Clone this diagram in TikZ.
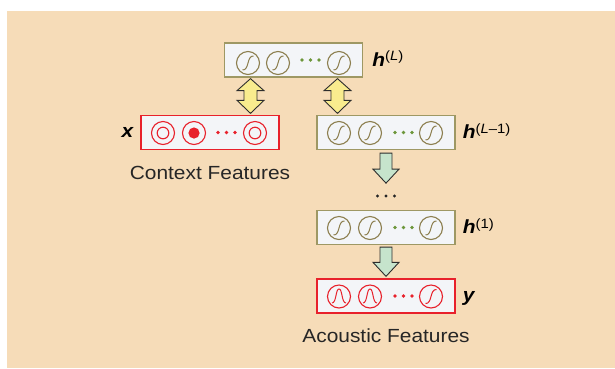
\documentclass[tikz,border=0pt]{standalone}
\usepackage{fontspec}
\setmainfont[FakeStretch=1.1]{Liberation Sans}
\usetikzlibrary{calc}

\definecolor{bgtan}{RGB}{246,220,184}
\definecolor{boxfill}{RGB}{243,245,248}
\definecolor{olive}{RGB}{158,152,100}
\definecolor{unitolive}{RGB}{140,126,78}
\definecolor{dotgreen}{RGB}{108,150,58}
\definecolor{featred}{RGB}{232,33,43}
\definecolor{yfill}{RGB}{249,236,142}
\definecolor{gfill}{RGB}{198,228,204}
\definecolor{arrline}{RGB}{45,45,45}

\tikzset{
  layer/.style={draw=olive, fill=boxfill, line width=1.3pt,
    minimum width=138pt, minimum height=34pt, inner sep=0pt},
  featlayer/.style={layer, draw=featred},
  unit/.style={circle, draw=unitolive, line width=1.1pt,
    minimum size=23pt, inner sep=0pt},
  redunit/.style={unit, draw=featred},
  curve/.style={line width=1pt},
  yarrow/.style={fill=yfill, draw=arrline, line width=0.9pt, line join=miter},
  garrow/.style={fill=gfill, draw=arrline, line width=0.9pt, line join=miter},
  hlabel/.style={anchor=base west, font=\fontsize{19}{19}\selectfont\bfseries\itshape, inner sep=0pt},
  caption/.style={font=\fontsize{19}{20}\selectfont, text=black!85, inner sep=0pt},
}

% superscript of a layer label
\newcommand{\layersup}[1]{\raisebox{5.5pt}{\fontsize{13.5}{13.5}\selectfont\mdseries\upshape #1}}
% sigmoid and Gaussian glyphs drawn inside a unit circle
\newcommand{\sigmoidin}[2]{\draw[curve,#2] ($(#1)+(-5.5,7)$) .. controls ($(#1)+(1.5,7.5)$) and ($(#1)+(-1.5,-7.5)$) .. ($(#1)+(5.5,-7)$);}
\newcommand{\gaussin}[2]{\draw[curve,#2] ($(#1)+(-7,6.5)$) .. controls ($(#1)+(-2.5,6.5)$) and ($(#1)+(-3.5,-7.5)$) .. ($(#1)+(0,-7.5)$) .. controls ($(#1)+(3.5,-7.5)$) and ($(#1)+(2.5,6.5)$) .. ($(#1)+(7,6.5)$);}
% three small dots centred on a point
\newcommand{\threedots}[2]{\foreach \dx in {-8.5,0,8.5} \fill[#2] ($(#1)+(\dx,0)$) circle (1.9pt);}
% fat down arrow between two points
\newcommand{\fatdown}[3]{\draw[#3] let \p1=(#1), \p2=(#2) in
  (\x1-6pt,\y1) -- (\x1+6pt,\y1) -- (\x1+6pt,\y2+14pt) -- (\x1+13pt,\y2+14pt)
  -- (\x1,\y2) -- (\x1-13pt,\y2+14pt) -- (\x1-6pt,\y2+14pt) -- cycle;}
% fat double arrow between two points
\newcommand{\fatboth}[3]{\draw[#3] let \p1=(#1), \p2=(#2) in
  (\x1,\y1) -- (\x1+13.5pt,\y1-12pt) -- (\x1+6.5pt,\y1-12pt) -- (\x1+6.5pt,\y2+13pt)
  -- (\x1+13.5pt,\y2+13pt) -- (\x1,\y2) -- (\x1-13.5pt,\y2+13pt) -- (\x1-6.5pt,\y2+13pt)
  -- (\x1-6.5pt,\y1-12pt) -- (\x1-13.5pt,\y1-12pt) -- cycle;}

\begin{document}
\begin{tikzpicture}[x=1pt, y=-1pt]
  \useasboundingbox (0,0) rectangle (615,368);
  \fill[bgtan] (7,11) rectangle (615,368);

  % layers
  \node[layer] (hL)  at (293.5,60)  {};
  \node[featlayer] (ctx) at (210,132.5) {};
  \node[layer] (hL1) at (386,132.5) {};
  \node[layer] (h1)  at (386,227.5) {};
  \node[featlayer] (out) at (386,296) {};

  % units of the top hidden layer
  \foreach \n/\cx in {a/-45.5,b/-15.5,c/45.5} {
    \node[unit] (hL\n) at ($(hL)+(\cx,3)$) {};
    \sigmoidin{hL\n}{unitolive}
  }
  \threedots{$(hL)+(17,0)$}{dotgreen}

  % units of layer L-1
  \foreach \n/\cx in {a/-47,b/-16,c/45} {
    \node[unit] (hLm\n) at ($(hL1)+(\cx,0.5)$) {};
    \sigmoidin{hLm\n}{unitolive}
  }
  \threedots{$(hL1)+(17.5,0)$}{dotgreen}

  % units of the first hidden layer
  \foreach \n/\cx in {a/-47,b/-16,c/45} {
    \node[unit] (hOne\n) at ($(h1)+(\cx,0.5)$) {};
    \sigmoidin{hOne\n}{unitolive}
  }
  \threedots{$(h1)+(17.5,0)$}{dotgreen}

  % context feature units
  \node[redunit] (xa) at ($(ctx)+(-47,0.5)$) {};
  \draw[featred, line width=1.1pt] (xa) circle (5.8pt);
  \node[redunit] (xb) at ($(ctx)+(-16,0.5)$) {};
  \fill[featred] (xb) circle (5.6pt);
  \node[redunit] (xc) at ($(ctx)+(45,0.5)$) {};
  \draw[featred, line width=1.1pt] (xc) circle (5.8pt);
  \threedots{$(ctx)+(16.5,0)$}{featred}

  % acoustic feature units
  \node[redunit] (ya) at ($(out)+(-47,0.5)$) {};
  \gaussin{ya}{featred}
  \node[redunit] (yb) at ($(out)+(-16,0.5)$) {};
  \gaussin{yb}{featred}
  \node[redunit] (yc) at ($(out)+(45,0.5)$) {};
  \sigmoidin{yc}{featred}
  \threedots{$(out)+(17.5,0)$}{featred}

  % layer labels
  \node[hlabel] (labL)  at ($(hL.east)+(9,6)$)  {h\layersup{(\textit{L})}};
  \node[hlabel] (labL1) at ($(hL1.east)+(7,6)$) {h\layersup{(\textit{L}–1)}};
  \node[hlabel] (lab1)  at ($(h1.east)+(7,6)$)  {h\layersup{(1)}};
  \node[hlabel] (laby)  at ($(out.east)+(7,5.5)$) {y};
  \node[hlabel, anchor=base east] (labx) at ($(ctx.west)+(-7,5)$) {x};

  \node[caption] (ctxcap) at ($(ctx.south)+(0,23)$) {Context Features};
  \node[caption] (outcap) at ($(out.south)+(0,22)$) {Acoustic Features};

  % vertical ellipsis between layer L-1 and layer 1
  \foreach \dx in {-8.5,0,8.5} \fill[black!85] ($(386,196)+(\dx,0)$) circle (1.7pt);

  % connections
  \coordinate (d1t) at (hL.south -| 250.5,0);
  \coordinate (d1b) at (ctx.north -| 250.5,0);
  \fatboth{$(d1t)+(0,1)$}{$(d1b)+(0,-1.5)$}{yarrow}
  \coordinate (d2t) at (hL.south -| 337.5,0);
  \coordinate (d2b) at (hL1.north -| 337.5,0);
  \fatboth{$(d2t)+(0,1)$}{$(d2b)+(0,-1.5)$}{yarrow}

  \fatdown{$(hL1.south)+(0,3)$}{$(hL1.south)+(0,33)$}{garrow}
  \fatdown{$(h1.south)+(0,2)$}{$(out.north)+(0,-2)$}{garrow}
\end{tikzpicture}
\end{document}
